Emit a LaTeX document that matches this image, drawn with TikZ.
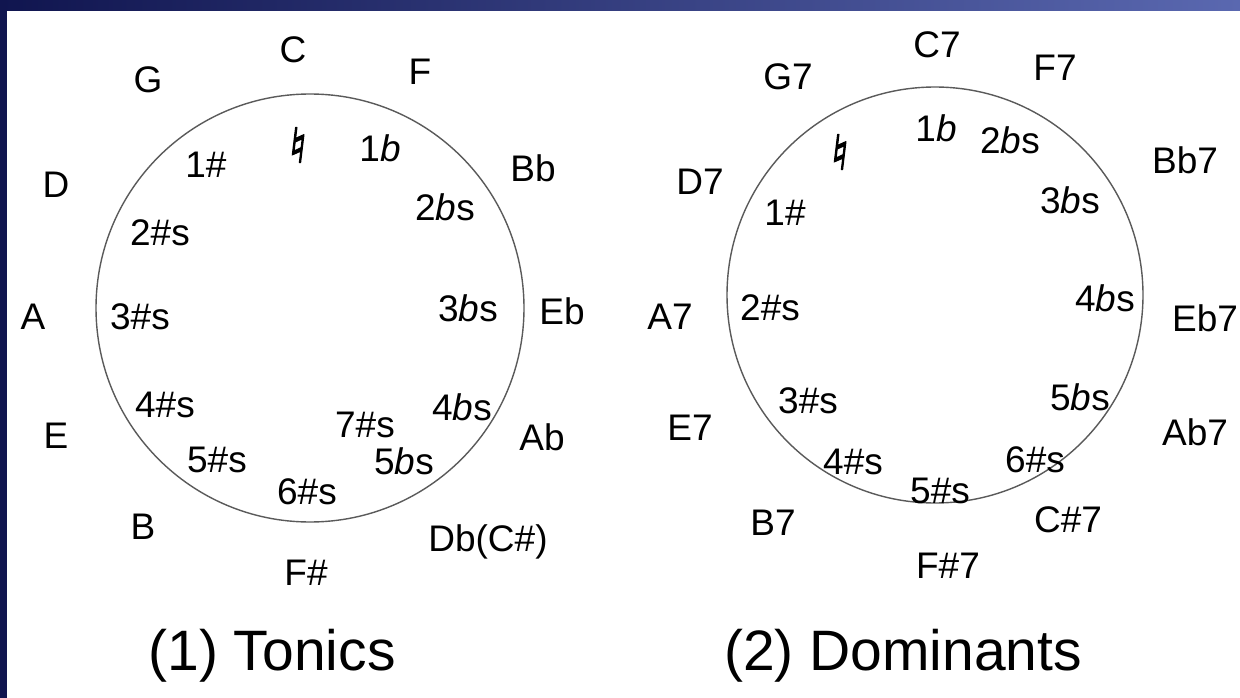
\documentclass[tikz,border=0pt]{standalone}
\usepackage{fontspec}
\setmainfont{Liberation Sans}
\newfontfamily\symfont[FakeBold=2.5,FakeSlant=0.12]{DejaVu Sans}
\definecolor{navy}{HTML}{10154F}
\definecolor{bandright}{HTML}{5A68B0}
\definecolor{ringgray}{HTML}{5A5A5A}
\newcommand{\fl}{\textit{b}}
\newcommand{\nat}{{\symfont\fontsize{48}{50}\selectfont ♮}}
\begin{document}
\begin{tikzpicture}[x=1pt,y=-1pt,
  lbl/.style={inner sep=0pt,font=\fontsize{37}{40}\selectfont},
  title/.style={inner sep=0pt,anchor=base,font=\fontsize{57}{60}\selectfont},
  ring/.style={draw=ringgray,line width=1.4pt}]
\useasboundingbox (0,0) rectangle (1240,698);
% frame
\fill[white] (0,0) rectangle (1240,698);
\shade[left color=navy,right color=bandright] (0,0) rectangle (1240,11);
\fill[navy] (0,0) rectangle (7,698);

% ---- circle of tonics ----
\draw[ring] (310,308) circle[radius=214];
\node[lbl] (tC)  at (293,50)  {C};
\node[lbl] (tF)  at (420,72)  {F};
\node[lbl] (tG)  at (148,80)  {G};
\node[lbl] (tBb) at (533,168) {Bb};
\node[lbl] (tD)  at (56,185)  {D};
\node[lbl] (tA)  at (33,317)  {A};
\node[lbl] (tEb) at (562,311) {Eb};
\node[lbl] (tE)  at (56,436)  {E};
\node[lbl] (tAb) at (542,437) {Ab};
\node[lbl] (tB)  at (143,527) {B};
\node[lbl] (tDb) at (488,542) {Db(C\#)};
\node[lbl] (tFs) at (306,573) {F\#};
% key signatures
\node[lbl] (tk0)  at (296,145) {\nat};
\node[lbl] (tk1b) at (380,148) {1\fl};
\node[lbl] (tk1s) at (206,165) {1\#};
\node[lbl] (tk2b) at (445,207) {2\fl s};
\node[lbl] (tk2s) at (160,233) {2\#s};
\node[lbl] (tk3s) at (140,317) {3\#s};
\node[lbl] (tk3b) at (468,308) {3\fl s};
\node[lbl] (tk4s) at (165,405) {4\#s};
\node[lbl] (tk4b) at (462,407) {4\fl s};
\node[lbl] (tk7s) at (365,425) {7\#s};
\node[lbl] (tk5b) at (404,461) {5\fl s};
\node[lbl] (tk5s) at (217,460) {5\#s};
\node[lbl] (tk6s) at (307,492) {6\#s};
\node[title] (ttl1) at (272,670) {(1) Tonics};

% ---- circle of dominants ----
\draw[ring] (935,295) circle[radius=208];
\node[lbl] (dC)  at (937,45)   {C7};
\node[lbl] (dF)  at (1055,68)  {F7};
\node[lbl] (dG)  at (788,77)   {G7};
\node[lbl] (dBb) at (1185,160) {Bb7};
\node[lbl] (dD)  at (700,182)  {D7};
\node[lbl] (dA)  at (670,317)  {A7};
\node[lbl] (dEb) at (1205,318) {Eb7};
\node[lbl] (dE)  at (690,428)  {E7};
\node[lbl] (dAb) at (1195,432) {Ab7};
\node[lbl] (dB)  at (773,523)  {B7};
\node[lbl] (dCs) at (1068,520) {C\#7};
\node[lbl] (dFs) at (948,566)  {F\#7};
% key signatures
\node[lbl] (dk0)  at (838,152)  {\nat};
\node[lbl] (dk1b) at (936,128)  {1\fl};
\node[lbl] (dk2b) at (1010,140) {2\fl s};
\node[lbl] (dk1s) at (785,213)  {1\#};
\node[lbl] (dk3b) at (1070,200) {3\fl s};
\node[lbl] (dk2s) at (770,308)  {2\#s};
\node[lbl] (dk4b) at (1105,298) {4\fl s};
\node[lbl] (dk3s) at (808,401)  {3\#s};
\node[lbl] (dk5b) at (1080,397) {5\fl s};
\node[lbl] (dk4s) at (853,462)  {4\#s};
\node[lbl] (dk6s) at (1035,460) {6\#s};
\node[lbl] (dk5s) at (940,491)  {5\#s};
\node[title] (ttl2) at (903,670) {(2) Dominants};
\end{tikzpicture}
\end{document}
